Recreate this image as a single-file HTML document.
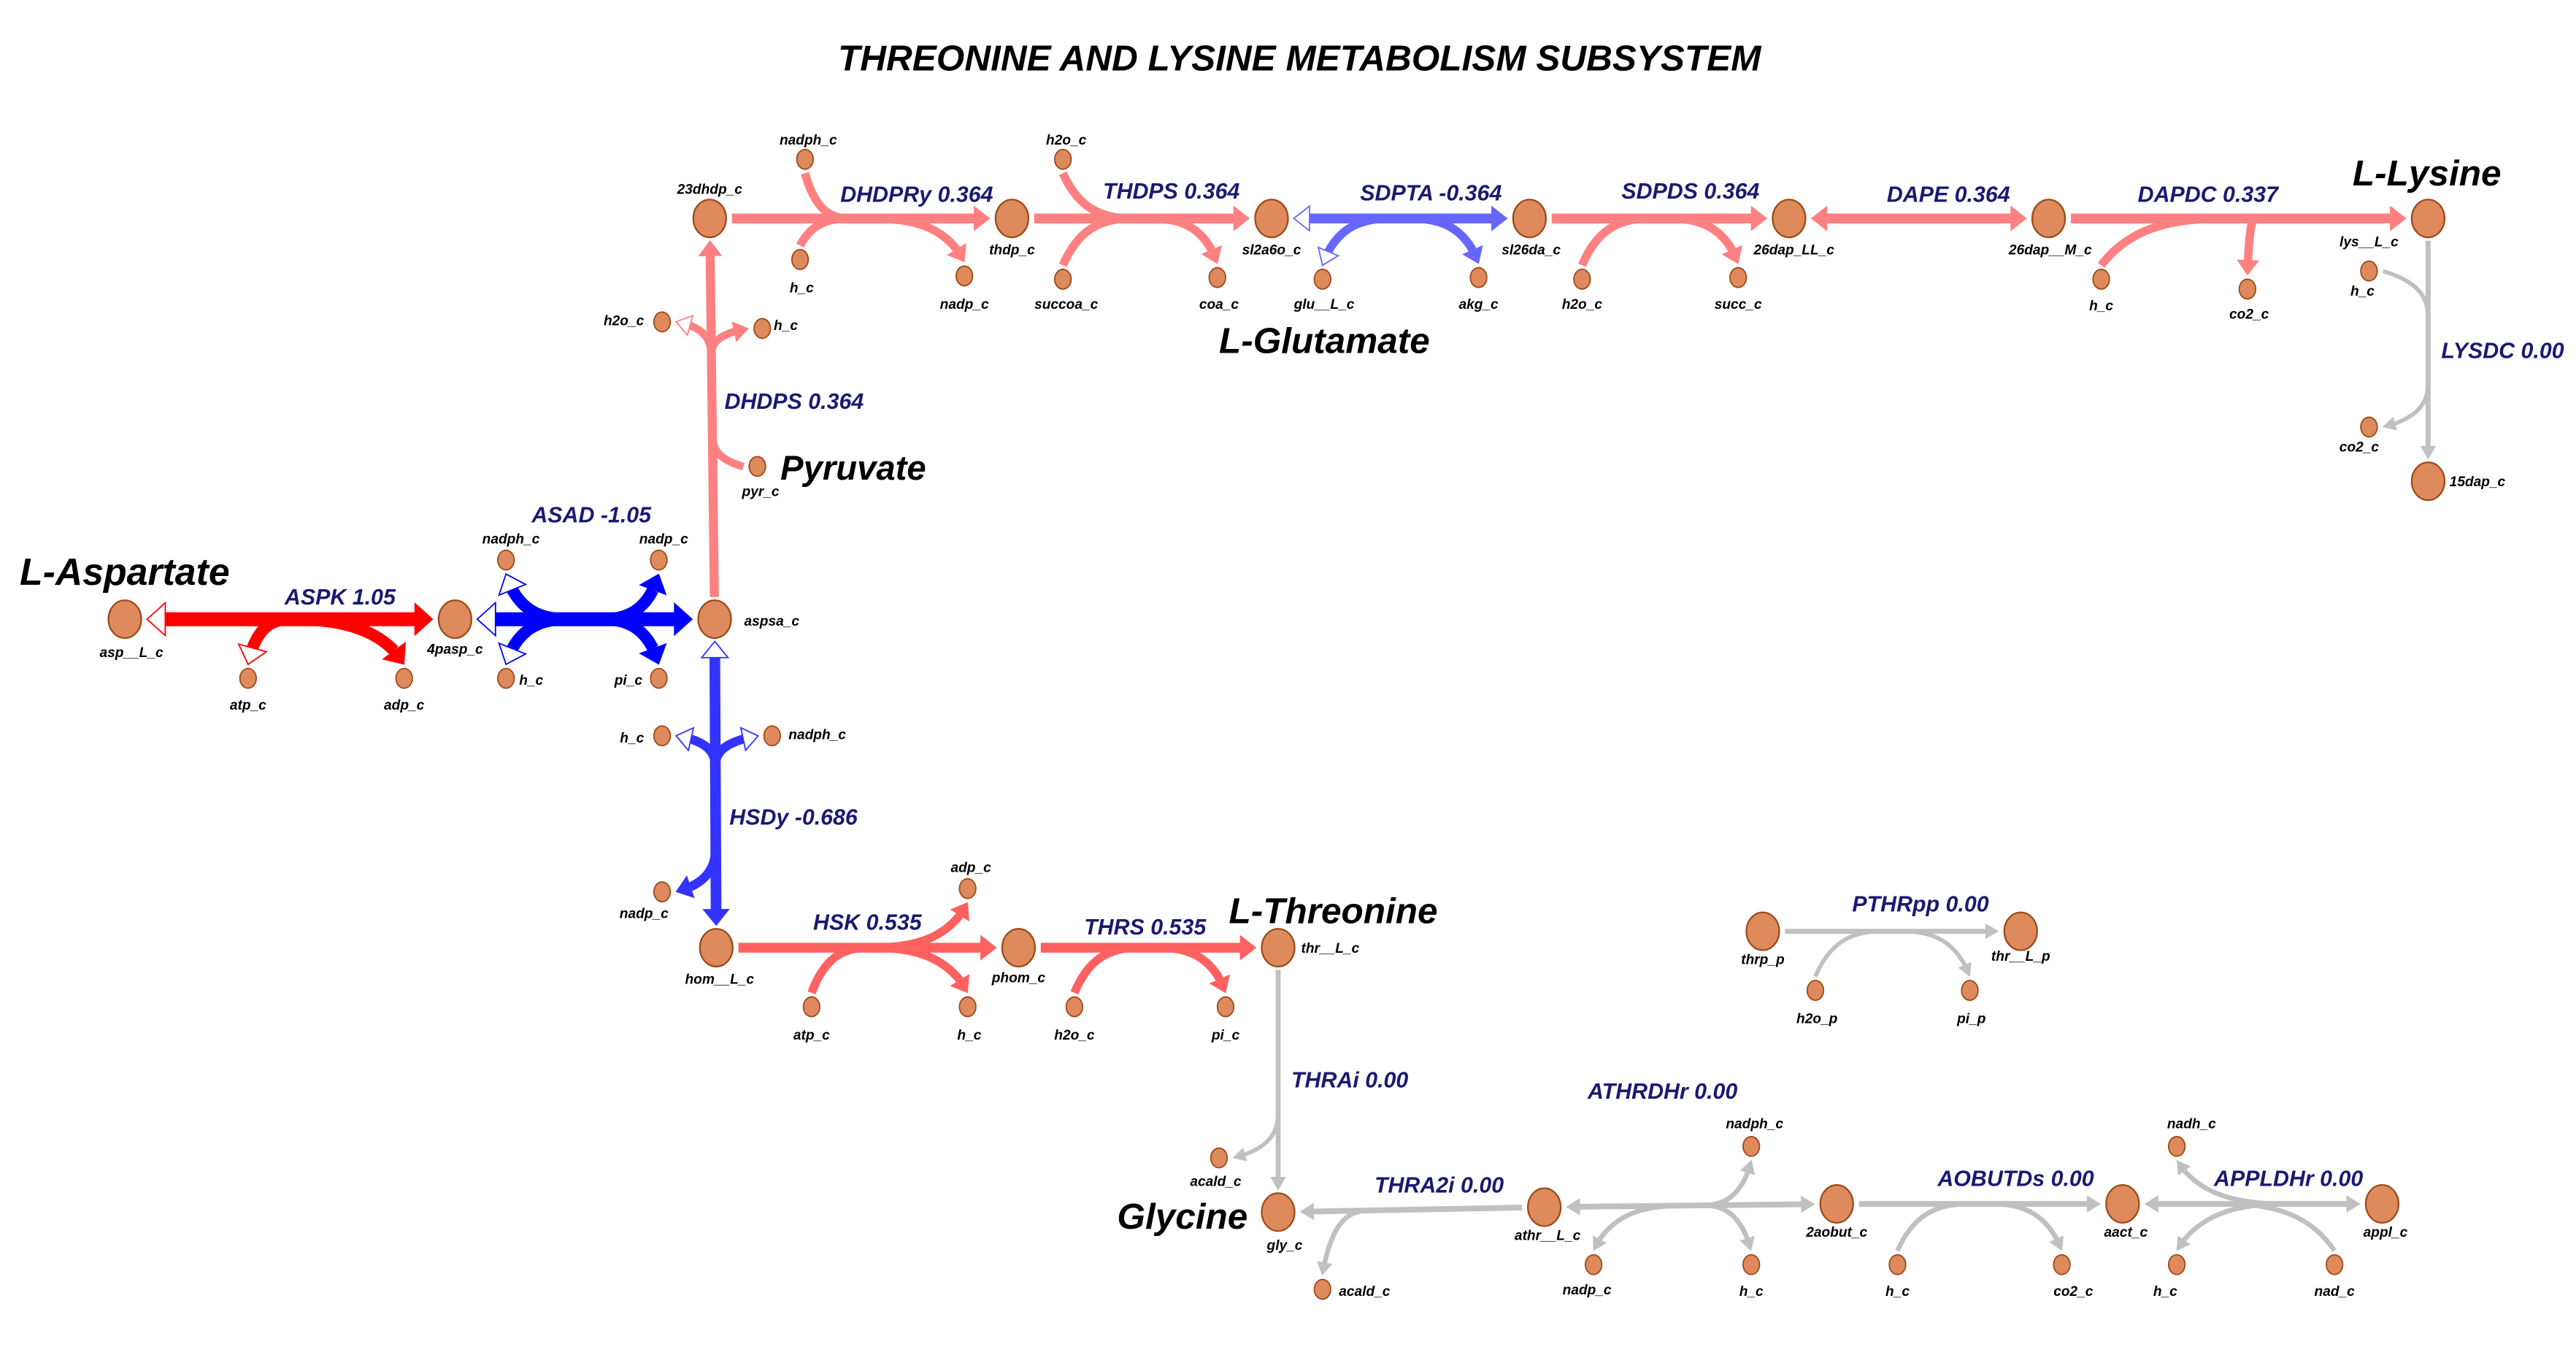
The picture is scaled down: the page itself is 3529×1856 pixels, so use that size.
<!DOCTYPE html>
<html><head><meta charset="utf-8"><title>Threonine and Lysine Metabolism Subsystem</title>
<style>
html,body{margin:0;padding:0;background:#fff;}
svg{display:block;}
text{font-family:"Liberation Sans Narrow","Liberation Sans",sans-serif;font-weight:bold;font-style:italic;}
</style></head>
<body>
<svg id="map" width="3529" height="1856" viewBox="0 0 1568 825" preserveAspectRatio="none" xmlns="http://www.w3.org/2000/svg">
<text x="791" y="43" text-anchor="middle" font-size="22" fill="#000" style="font-family:'Liberation Sans',sans-serif">THREONINE AND LYSINE METABOLISM SUBSYSTEM</text>
<text x="12" y="356" font-size="23" fill="#000" style="font-family:'Liberation Sans',sans-serif">L-Aspartate</text>
<text x="475" y="292" font-size="21" fill="#000" style="font-family:'Liberation Sans',sans-serif">Pyruvate</text>
<text x="742" y="215" font-size="22" fill="#000" style="font-family:'Liberation Sans',sans-serif">L-Glutamate</text>
<text x="1432" y="113" font-size="22" fill="#000" style="font-family:'Liberation Sans',sans-serif">L-Lysine</text>
<text x="748" y="562" font-size="22" fill="#000" style="font-family:'Liberation Sans',sans-serif">L-Threonine</text>
<text x="680" y="748" font-size="22" fill="#000" style="font-family:'Liberation Sans',sans-serif">Glycine</text>
<g id="rx"></g>
<g id="nd"></g>
</svg>
<script>
// metabolites: id, label, x, y, major, label x, label y, anchor
const nodes = [
 ["asp","asp__L_c",76,377,1,80,400,"middle"],
 ["4pasp","4pasp_c",277,377,1,277,398,"middle"],
 ["aspsa","aspsa_c",435,377,1,453,381,"start"],
 ["23dhdp","23dhdp_c",432,133,1,432,118,"middle"],
 ["thdp","thdp_c",616,133,1,616,155,"middle"],
 ["sl2a6o","sl2a6o_c",774,133,1,774,155,"middle"],
 ["sl26da","sl26da_c",931,133,1,932,155,"middle"],
 ["26dapLL","26dap_LL_c",1089,133,1,1092,155,"middle"],
 ["26dapM","26dap__M_c",1247,133,1,1248,155,"middle"],
 ["lys","lys__L_c",1478,133,1,1442,150,"middle"],
 ["15dap","15dap_c",1478,293,1,1491,296,"start"],
 ["hom","hom__L_c",436,577,1,438,599,"middle"],
 ["phom","phom_c",620,577,1,620,598,"middle"],
 ["thr","thr__L_c",778,577,1,792,580,"start"],
 ["gly","gly_c",778,738,1,782,761,"middle"],
 ["athr","athr__L_c",940,735,1,942,755,"middle"],
 ["2aobut","2aobut_c",1118,733,1,1118,753,"middle"],
 ["aact","aact_c",1292,733,1,1294,753,"middle"],
 ["appl","appl_c",1450,733,1,1452,753,"middle"],
 ["thrp","thrp_p",1073,567,1,1073,587,"middle"],
 ["thrLp","thr__L_p",1230,567,1,1230,585,"middle"],
 ["atp1","atp_c",151,413,0,151,432,"middle"],
 ["adp1","adp_c",246,413,0,246,432,"middle"],
 ["nadph1","nadph_c",308,341,0,311,331,"middle"],
 ["nadp1","nadp_c",401,341,0,404,331,"middle"],
 ["h1","h_c",308,413,0,316,417,"start"],
 ["pi1","pi_c",401,413,0,391,417,"end"],
 ["h2o2","h2o_c",403,196,0,392,198,"end"],
 ["h2","h_c",464,200,0,471,201,"start"],
 ["pyr","pyr_c",461,284,0,463,302,"middle"],
 ["nadph3","nadph_c",490,97,0,492,88,"middle"],
 ["h3","h_c",487,158,0,488,178,"middle"],
 ["nadp3","nadp_c",587,168,0,587,188,"middle"],
 ["h2o4","h2o_c",647,97,0,649,88,"middle"],
 ["succoa","succoa_c",647,170,0,649,188,"middle"],
 ["coa","coa_c",741,169,0,742,188,"middle"],
 ["glu","glu__L_c",805,170,0,806,188,"middle"],
 ["akg","akg_c",900,169,0,900,188,"middle"],
 ["h2o5","h2o_c",963,170,0,963,188,"middle"],
 ["succ","succ_c",1058,169,0,1058,188,"middle"],
 ["h6","h_c",1279,170,0,1279,189,"middle"],
 ["co26","co2_c",1368,176,0,1369,194,"middle"],
 ["h7","h_c",1442,165,0,1438,180,"middle"],
 ["co27","co2_c",1442,260,0,1436,275,"middle"],
 ["h8","h_c",403,448,0,392,452,"end"],
 ["nadph8","nadph_c",470,448,0,480,450,"start"],
 ["nadp8","nadp_c",403,543,0,392,559,"middle"],
 ["atp9","atp_c",494,613,0,494,633,"middle"],
 ["adp9","adp_c",589,541,0,591,531,"middle"],
 ["h9","h_c",589,613,0,590,633,"middle"],
 ["h2o10","h2o_c",654,613,0,654,633,"middle"],
 ["pi10","pi_c",746,613,0,746,633,"middle"],
 ["acald11","acald_c",742,705,0,740,722,"middle"],
 ["acald12","acald_c",805,785,0,815,789,"start"],
 ["nadph13","nadph_c",1066,698,0,1068,687,"middle"],
 ["nadp13","nadp_c",970,770,0,966,788,"middle"],
 ["h13","h_c",1066,770,0,1066,789,"middle"],
 ["h14","h_c",1155,770,0,1155,789,"middle"],
 ["co214","co2_c",1255,770,0,1262,789,"middle"],
 ["nadh15","nadh_c",1325,698,0,1334,687,"middle"],
 ["h15","h_c",1325,770,0,1318,789,"middle"],
 ["nad15","nad_c",1421,770,0,1421,789,"middle"],
 ["h2op","h2o_p",1105,603,0,1106,623,"middle"],
 ["pip","pi_p",1199,603,0,1200,623,"middle"]
];
// reaction names and fluxes
const rxnNames = ["ASPK","ASAD","DHDPS","DHDPRy","THDPS","SDPTA","SDPDS","DAPE","DAPDC","LYSDC","HSDy","HSK","THRS","THRAi","THRA2i","ATHRDHr","AOBUTDs","APPLDHr","PTHRpp"];
const fluxes = [1.05,-1.05,0.364,0.364,0.364,-0.364,0.364,0.364,0.337,0.00,-0.686,0.535,0.535,0.00,0.00,0.00,0.00,0.00,0.00];
// from, to, start head, end head, color, width, label pos
const rxnGeom = [
 ["asp","4pasp","open","fill","#ff0000",8.5,207,368,"middle"],
 ["4pasp","aspsa","open","fill","#0000ff",8.5,360,318,"middle"],
 ["aspsa","23dhdp","none","fill","#ff8080",5.5,441,249,"start"],
 ["23dhdp","thdp","none","fill","#ff8080",6,558,123,"middle"],
 ["thdp","sl2a6o","none","fill","#ff8080",6,713,121,"middle"],
 ["sl2a6o","sl26da","open","fill","#6666ff",6,871,122,"middle"],
 ["sl26da","26dapLL","none","fill","#ff8080",6,1029,121,"middle"],
 ["26dapLL","26dapM","fill","fill","#ff8080",6,1186,123,"middle"],
 ["26dapM","lys","none","fill","#ff8080",6,1344,123,"middle"],
 ["lys","15dap","none","fill","#c0c0c0",3,1486,218,"start"],
 ["aspsa","hom","open","fill","#3333ff",6.5,444,502,"start"],
 ["hom","phom","none","fill","#ff6060",6,528,566,"middle"],
 ["phom","thr","none","fill","#ff6060",6,697,569,"middle"],
 ["thr","gly","none","fill","#c0c0c0",3,786,662,"start"],
 ["athr","gly","none","fill","#c0c0c0",3.5,876,726,"middle"],
 ["2aobut","athr","fill","fill","#c0c0c0",3.5,1012,669,"middle"],
 ["2aobut","aact","none","fill","#c0c0c0",3.5,1227,722,"middle"],
 ["appl","aact","fill","fill","#c0c0c0",3.5,1393,722,"middle"],
 ["thrp","thrLp","none","fill","#c0c0c0",3,1169,555,"middle"]
];
// side metabolites: reaction index, node, junction fraction, head
const branches = [
 [0,"atp1",0.5,"open"],[0,"adp1",0.5,"fill"],
 [1,"nadph1",0.42,"open"],[1,"h1",0.42,"open"],[1,"nadp1",0.58,"fill"],[1,"pi1",0.58,"fill"],
 [2,"pyr",0.45,"none"],[2,"h2o2",0.68,"open"],[2,"h2",0.68,"fill"],
 [3,"nadph3",0.45,"none"],[3,"h3",0.45,"none"],[3,"nadp3",0.55,"fill"],
 [4,"h2o4",0.45,"none"],[4,"succoa",0.45,"none"],[4,"coa",0.55,"fill"],
 [5,"glu",0.45,"open"],[5,"akg",0.55,"fill"],
 [6,"h2o5",0.45,"none"],[6,"succ",0.55,"fill"],
 [8,"h6",0.45,"none"],[8,"co26",0.55,"fill"],
 [9,"h7",0.35,"none"],[9,"co27",0.65,"fill"],
 [10,"h8",0.44,"open"],[10,"nadph8",0.44,"open"],[10,"nadp8",0.72,"fill"],
 [11,"atp9",0.5,"none"],[11,"adp9",0.52,"fill"],[11,"h9",0.52,"fill"],
 [12,"h2o10",0.45,"none"],[12,"pi10",0.55,"fill"],
 [13,"acald11",0.65,"fill"],
 [14,"acald12",0.7,"fill"],
 [15,"nadph13",0.45,"fill"],[15,"h13",0.45,"fill"],[15,"nadp13",0.55,"fill"],
 [16,"h14",0.45,"none"],[16,"co214",0.55,"fill"],
 [17,"nadh15",0.35,"fill"],[17,"h15",0.35,"fill"],[17,"nad15",0.62,"none"],
 [18,"h2op",0.45,"none"],[18,"pip",0.55,"fill"]
];

const NS="http://www.w3.org/2000/svg";
const rx=document.getElementById('rx'), nd=document.getElementById('nd');
const N={}; nodes.forEach(n=>N[n[0]]={x:n[2],y:n[3],r:n[4]?10.5:5.5});
function mk(t,a,p){const e=document.createElementNS(NS,t);for(const k in a)e.setAttribute(k,a[k]);(p||rx).appendChild(e);return e;}
function head(tx,ty,dx,dy,w,col,type,nm){
  if(type==="none")return;
  const L=w*0.6+6,H=w+1.5;const bx=tx-dx*L,by=ty-dy*L,px=-dy,py=dx;
  const e=mk('polygon',{points:`${tx},${ty} ${bx+px*H},${by+py*H} ${bx-px*H},${by-py*H}`,fill:type==="open"?"#fff":col,stroke:col,'stroke-width':type==="open"?0.8:0.3});
  
  
}
const seg=[];
rxnGeom.forEach((g,i)=>{
  const A=N[g[0]],B=N[g[1]],col=g[4],w=g[5];
  let dx=B.x-A.x,dy=B.y-A.y;const len=Math.hypot(dx,dy);const ux=dx/len,uy=dy/len;
  const p1x=A.x+ux*(A.r+3),p1y=A.y+uy*(A.r+3),p2x=B.x-ux*(B.r+3),p2y=B.y-uy*(B.r+3);
  const L=w*0.6+6;
  const s1=g[2]!=="none"?L:0,s2=g[3]!=="none"?L:0;
  const gr=mk('g',{});
  
  
  const ln=mk('line',{x1:p1x+ux*s1,y1:p1y+uy*s1,x2:p2x-ux*s2,y2:p2y-uy*s2,stroke:col,'stroke-width':w},gr);
  
  
  seg[i]={p1x,p1y,p2x,p2y,ux,uy,col,w,gr};
  const hg=mk('g',{},gr);
  head(p2x,p2y,ux,uy,w,col,g[3],'arrowhead');
  head(p1x,p1y,-ux,-uy,w,col,g[2],'arrowhead');
  const t=mk('text',{x:g[6],y:g[7],'text-anchor':g[8],'font-size':13.5,fill:'#1a1a72'});
  t.textContent=rxnNames[i]+' '+(fluxes[i]===0?'0.00':String(fluxes[i]));
  
  
});
branches.forEach(b=>{
  const s=seg[b[0]],S=N[b[1]];const w=s.w*0.85;
  const Mx=s.p1x+(s.p2x-s.p1x)*b[2],My=s.p1y+(s.p2y-s.p1y)*b[2];
  let Dx=Mx-S.x,Dy=My-S.y;const par=Dx*s.ux+Dy*s.uy;
  let qx=Dx-par*s.ux,qy=Dy-par*s.uy;const ql=Math.hypot(qx,qy);const vx=qx/ql,vy=qy/ql;
  let P0x=S.x+vx*(S.r+3),P0y=S.y+vy*(S.r+3);
  let c1x,c1y;
  function ctrl(){const dx=Mx-P0x,dy=My-P0y;const pr=dx*s.ux+dy*s.uy;const ppx=dx-pr*s.ux,ppy=dy-pr*s.uy;
    return [P0x+0.22*pr*s.ux+0.75*ppx,P0y+0.22*pr*s.uy+0.75*ppy,Mx-0.45*pr*s.ux,My-0.45*pr*s.uy];}
  let c=ctrl();
  if(b[3]!=="none"){
    let tx=c[0]-P0x,ty=c[1]-P0y;const tl=Math.hypot(tx,ty);tx/=tl;ty/=tl;
    head(P0x,P0y,-tx,-ty,w,s.col,b[3],'cofactor-arrowhead');
    const L=w*0.6+6;P0x+=tx*L;P0y+=ty*L;c=ctrl();
  }
  const p=mk('path',{d:`M${P0x},${P0y} C${c[0]},${c[1]} ${c[2]},${c[3]} ${Mx},${My}`,fill:'none',stroke:s.col,'stroke-width':w});
  
  
});
nodes.forEach(n=>{
  const e=mk('ellipse',{cx:n[2],cy:n[3],rx:n[4]?10:5,ry:n[4]?11.5:6,fill:'#de8a5c',stroke:'#9c4a1a','stroke-width':n[4]?1:0.8},nd);
  
  
  const t=mk('text',{x:n[5],y:n[6],'text-anchor':n[7],'font-size':8.5,fill:'#000'},nd);
  t.textContent=n[1];
  
  
});
</script>
</body></html>
